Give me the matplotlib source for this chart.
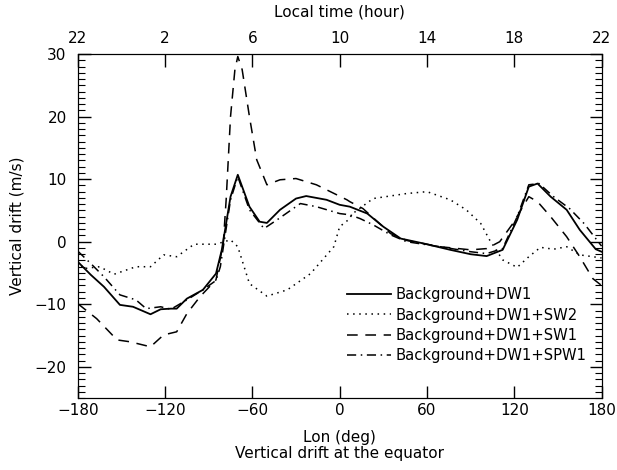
import numpy as np
import matplotlib.pyplot as plt
from matplotlib.ticker import MultipleLocator

# values (lon in deg, drift in m/s)
lon_dw1 = [-180, -171, -162, -151, -142, -130, -123, -116, -112, -105, -94, -85,
           -81, -75, -70, -62, -55, -50, -41, -30, -23, -9, 0, 7, 19, 30, 42,
           58, 76, 90, 101, 112, 122, 130, 136, 145, 156, 165, 176, 180]
v_dw1 = [-3.2, -5.3, -7.2, -10.1, -10.4, -11.6, -10.8, -10.7, -10.7, -9.1, -7.7, -5.1,
         -1.3, 7.2, 10.7, 5.6, 3.2, 3.0, 5.1, 6.9, 7.3, 6.7, 5.9, 5.6, 4.5, 2.4, 0.5,
         -0.3, -1.3, -2.0, -2.3, -1.3, 3.5, 8.8, 9.3, 7.2, 5.1, 1.9, -1.2, -1.6]

lon_sw2 = [-180, -176, -165, -155, -140, -130, -121, -112, -100, -85, -75, -70,
           -62, -59, -50, -36, -20, -4, 0, 6, 9, 23, 46, 60, 76, 87, 97, 103,
           112, 122, 130, 138, 147, 156, 165, 174, 180]
v_sw2 = [-3.0, -4.3, -4.0, -5.2, -4.0, -4.0, -2.1, -2.4, -0.4, -0.4, 0.3, -0.8,
         -6.7, -7.2, -8.7, -7.7, -5.1, -0.8, 2.4, 3.5, 4.5, 6.9, 7.7, 8.0, 6.7, 5.1, 2.9, 0.3,
         -2.9, -4.1, -2.4, -0.9, -1.2, -0.8, -2.1, -2.4, -2.6]

lon_sw1 = [-180, -167, -153, -144, -130, -121, -112, -105, -96, -85, -80, -78,
           -75, -72, -70, -67, -62, -57, -50, -41, -30, -16, 5, 7, 16, 26, 35,
           46, 69, 90, 101, 110, 119, 130, 136, 145, 156, 165, 174, 180]
v_sw1 = [-9.9, -12.3, -15.7, -16.0, -16.8, -14.9, -14.4, -11.5, -8.8, -6.1, -0.3, 6.7,
         20.0, 27.5, 29.6, 27.5, 20.0, 13.1, 9.1, 9.9, 10.1, 9.1, 6.7, 6.4, 5.3, 3.2, 1.3,
         0.2, -0.8, -1.3, -1.1, 0.0, 2.9, 7.2, 6.4, 4.0, 0.8, -2.4, -5.9, -7.0]

lon_spw1 = [-180, -171, -162, -151, -140, -133, -123, -116, -105, -94, -85, -82,
            -75, -70, -62, -52, -43, -27, -16, 0, 7, 14, 23, 35, 46, 69, 90,
            101, 112, 122, 130, 137, 147, 158, 168, 176, 180]
v_spw1 = [-1.5, -3.5, -5.6, -8.5, -9.3, -10.7, -10.4, -10.8, -9.3, -7.7, -6.2, -4.0,
          6.7, 10.4, 5.1, 2.1, 3.5, 6.1, 5.6, 4.5, 4.3, 3.7, 2.7, 1.1, 0.0, -0.8, -1.6,
          -1.9, -1.1, 4.0, 9.1, 9.3, 7.2, 5.3, 2.9, 0.5, -0.7]

lon_ticks = [-180, -120, -60, 0, 60, 120, 180]
lt_labels = ['22', '2', '6', '10', '14', '18', '22']

plt.rcParams['font.family'] = 'DejaVu Sans'
plt.rcParams['font.size'] = 11

fig = plt.figure(figsize=(6.17, 4.70), dpi=100)
ax = fig.add_axes([0.126, 0.153, 0.849, 0.732])

ax.plot(lon_dw1, v_dw1, color='black', lw=1.3, ls='-', label='Background+DW1')
ax.plot(lon_sw2, v_sw2, color='black', lw=1.1, ls=(0, (1, 3)), label='Background+DW1+SW2')
ax.plot(lon_sw1, v_sw1, color='black', lw=1.1, ls=(0, (7, 5)), label='Background+DW1+SW1')
ax.plot(lon_spw1, v_spw1, color='black', lw=1.1, ls=(0, (6, 3, 1, 3)),
        label='Background+DW1+SPW1')

ax.set_xlim(-180, 180)
ax.set_ylim(-25, 30)
ax.set_xticks(lon_ticks)
ax.set_yticks([-20, -10, 0, 10, 20, 30])
ax.yaxis.set_minor_locator(MultipleLocator(1))
ax.tick_params(axis='both', which='major', direction='in', length=9, width=1)
ax.tick_params(axis='y', which='minor', direction='in', length=5, width=0.8)
ax.tick_params(axis='y', which='both', right=True, pad=8)
ax.set_xlabel('Lon (deg)\nVertical drift at the equator', linespacing=1.05, labelpad=9)
ax.set_ylabel('Vertical drift (m/s)', labelpad=7)

top = ax.twiny()
top.set_xlim(-180, 180)
top.set_xticks(lon_ticks)
top.set_xticklabels(lt_labels)
top.tick_params(axis='x', direction='in', length=9, width=1, pad=6)
top.set_xlabel('Local time (hour)', labelpad=10)

ax.legend(loc='lower right', bbox_to_anchor=(0.985, 0.08), frameon=False, fontsize=10.6,
          handlelength=3.0, handletextpad=0.3, labelspacing=0.36, borderpad=0)

fig.savefig('out.png', dpi=100)
